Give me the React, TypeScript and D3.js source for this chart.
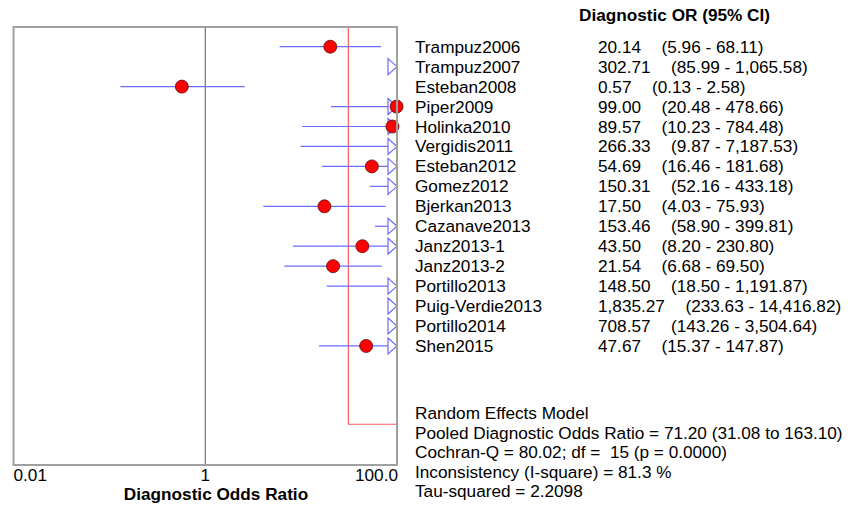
import React from "react";
import * as d3 from "d3";

const studies = [
  "Trampuz2006", "Trampuz2007", "Esteban2008", "Piper2009", "Holinka2010",
  "Vergidis2011", "Esteban2012", "Gomez2012", "Bjerkan2013", "Cazanave2013",
  "Janz2013-1", "Janz2013-2", "Portillo2013", "Puig-Verdie2013", "Portillo2014", "Shen2015",
];
const oddsRatio = [20.14, 302.71, 0.57, 99.0, 89.57, 266.33, 54.69, 150.31, 17.5, 153.46, 43.5, 21.54, 148.5, 1835.27, 708.57, 47.67];
const ciLower = [5.96, 85.99, 0.13, 20.48, 10.23, 9.87, 16.46, 52.16, 4.03, 58.9, 8.2, 6.68, 18.5, 233.63, 143.26, 15.37];
const ciUpper = [68.11, 1065.58, 2.58, 478.66, 784.48, 7187.53, 181.68, 433.18, 75.93, 399.81, 230.8, 69.5, 1191.87, 14416.82, 3504.64, 147.87];

const axisTicks = [0.01, 1, 100];
const axisTickLabels = ["0.01", "1", "100.0"];

const pooledOR = 71.2;
const pooledLower = 31.08;
const pooledUpper = 163.1;
const cochranQ = 80.02;
const df = 15;
const pValue = 0.0;
const iSquare = 81.3;
const tauSquared = 2.2098;

const W = 861;
const H = 505;
const FONT = "'Liberation Sans', Arial, sans-serif";
const FS = 17.2;

export default function App() {
  const left = 13.5;
  const right = 397;
  const top = 27;
  const bottom = 465;
  const x = d3.scaleLog().domain([0.01, 100]).range([left, right]);
  const rowY = (i: number) => 46.7 + 19.95 * i;
  const fmt = d3.format(",.2f");
  const [dMin, dMax] = x.domain();
  const blue = "#6b6bff";
  const pooledY = rowY(19) - 1.5;

  const statLines = [
    "Random Effects Model",
    `Pooled Diagnostic Odds Ratio = ${pooledOR.toFixed(2)} (${pooledLower.toFixed(2)} to ${pooledUpper.toFixed(2)})`,
    `Cochran-Q = ${cochranQ.toFixed(2)}; df =  ${df} (p = ${pValue.toFixed(4)})`,
    `Inconsistency (I-square) = ${iSquare.toFixed(1)} %`,
    `Tau-squared = ${tauSquared.toFixed(4)}`,
  ];

  return (
    <svg
      width={W}
      height={H}
      style={{ position: "absolute", left: 0, top: 0, background: "#fff" }}
      fontFamily={FONT}
    >
      {/* null-effect reference line */}
      <line x1={x(1)} x2={x(1)} y1={top} y2={bottom} stroke="#555" strokeWidth={1} />

      {/* pooled estimate marker */}
      <path
        d={`M${x(pooledLower)},${top} V${pooledY} H${right}`}
        fill="none"
        stroke="#ff5c5c"
        strokeWidth={1.2}
      />

      {/* study confidence intervals and estimates */}
      {studies.map((s, i) => {
        const y = rowY(i);
        const lo = Math.max(ciLower[i], dMin);
        const clipped = ciUpper[i] > dMax;
        const hiX = clipped ? right - 9 : x(Math.min(ciUpper[i], dMax));
        const showLine = ciLower[i] < dMax;
        const showPoint = oddsRatio[i] >= dMin && oddsRatio[i] <= dMax;
        return (
          <g key={s}>
            {showLine && x(lo) < hiX && (
              <line x1={x(lo)} x2={hiX} y1={y} y2={y} stroke={blue} strokeWidth={1.2} />
            )}
            {clipped && (
              <path
                d={`M${right - 9},${y - 8} L${right},${y} L${right - 9},${y + 8} Z`}
                fill="none"
                stroke={blue}
                strokeWidth={1.2}
              />
            )}
            {showPoint && (
              <circle cx={x(oddsRatio[i])} cy={y} r={6.5} fill="#ff0000" stroke="#5a1010" strokeWidth={0.8} />
            )}
          </g>
        );
      })}

      {/* plot frame */}
      <rect
        x={left}
        y={top}
        width={right - left}
        height={bottom - top}
        fill="none"
        stroke="#a0a0a0"
        strokeWidth={2}
      />

      {/* axis tick labels */}
      {axisTicks.map((t, i) => (
        <text
          key={t}
          x={i === 0 ? left : i === axisTicks.length - 1 ? right + 1 : x(t)}
          y={481}
          fontSize={FS}
          textAnchor={i === 0 ? "start" : i === axisTicks.length - 1 ? "end" : "middle"}
          fill="#000"
        >
          {axisTickLabels[i]}
        </text>
      ))}
      <text x={216} y={500} fontSize={FS} fontWeight="bold" textAnchor="middle">
        Diagnostic Odds Ratio
      </text>

      {/* table */}
      <text x={579} y={21} fontSize={FS} fontWeight="bold">
        Diagnostic OR (95% CI)
      </text>
      {studies.map((s, i) => (
        <g key={s + "-t"} fontSize={FS} fill="#000">
          <text x={415} y={rowY(i) + 6}>{s}</text>
          <text x={598} y={rowY(i) + 6}>
            <tspan>{fmt(oddsRatio[i])}</tspan>
            <tspan dx={20.5}>{`(${fmt(ciLower[i])} - ${fmt(ciUpper[i])})`}</tspan>
          </text>
        </g>
      ))}

      {/* summary statistics */}
      {statLines.map((l, i) => (
        <text key={i} x={415} y={419 + 19.6 * i} fontSize={FS} fill="#000" style={{ whiteSpace: "pre" }}>
          {l}
        </text>
      ))}
    </svg>
  );
}
